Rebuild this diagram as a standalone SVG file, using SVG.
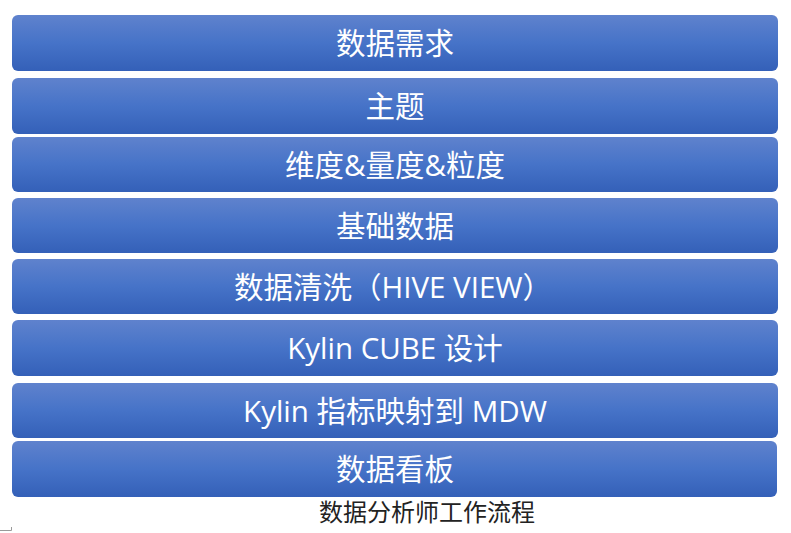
<svg xmlns="http://www.w3.org/2000/svg" width="791" height="533" viewBox="0 0 791 533">
<defs>
<linearGradient id="g" x1="0" y1="0" x2="0" y2="1">
<stop offset="0" stop-color="#5f82cd"/>
<stop offset="0.5" stop-color="#4673c8"/>
<stop offset="1" stop-color="#3460b8"/>
</linearGradient>
<style>
.bar{fill:url(#g);}
.t{font-family:"Open Sans","Noto Sans CJK SC",sans-serif;font-size:29.5px;fill:#ffffff;text-anchor:middle;}
.cap{font-family:"Noto Sans CJK SC",sans-serif;font-size:24px;fill:#222222;text-anchor:middle;}
</style>
</defs>
<rect width="791" height="533" fill="#ffffff"/>
<g id="n1"><rect class="bar" x="12" y="15" width="766" height="56" rx="6"/><text class="t" x="395" y="53.5">数据需求</text></g>
<g id="n2"><rect class="bar" x="12" y="78" width="766" height="56" rx="6"/><text class="t" x="395" y="116.5">主题</text></g>
<g id="n3"><rect class="bar" x="12" y="137" width="766" height="55" rx="6"/><text class="t" x="395" y="175.5">维度&amp;量度&amp;粒度</text></g>
<g id="n4"><rect class="bar" x="12" y="198" width="766" height="55" rx="6"/><text class="t" x="395" y="236.5">基础数据</text></g>
<g id="n5"><rect class="bar" x="12" y="259" width="766" height="55" rx="6"/><text class="t" x="393" y="297.5">数据清洗（HIVE VIEW）</text></g>
<g id="n6"><rect class="bar" x="12" y="320" width="766" height="56" rx="6"/><text class="t" x="395" y="358.5">Kylin CUBE 设计</text></g>
<g id="n7"><rect class="bar" x="12" y="383" width="766" height="55" rx="6"/><text class="t" x="395" y="421.5">Kylin 指标映射到 MDW</text></g>
<g id="n8"><rect class="bar" x="12" y="441" width="765" height="56" rx="6"/><text class="t" x="395" y="479.5">数据看板</text></g>
<g id="connectors"></g>
<text class="cap" x="427" y="521">数据分析师工作流程</text>
<polyline points="0,530.5 11.5,530.5 11.5,527" fill="none" stroke="#9a9a9a" stroke-width="1"/>
</svg>
